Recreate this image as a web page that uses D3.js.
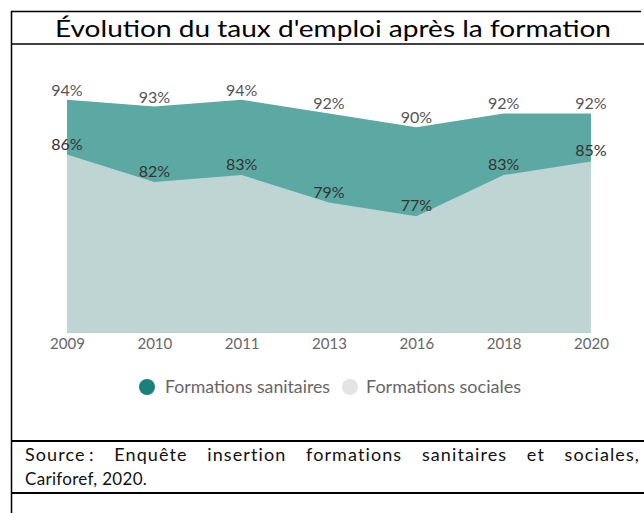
<!DOCTYPE html>
<html><head><meta charset="utf-8">
<script src="https://cdn.jsdelivr.net/npm/d3@7"></script>
<style>body{margin:0;background:#fff}svg{display:block}</style>
</head><body>
<script>
const years = ["2009","2010","2011","2013","2016","2018","2020"];
const sanitaires = [94,93,94,92,90,92,92];
const sociales = [86,82,83,79,77,83,85];
const seriesNames = ["Formations sanitaires","Formations sociales"];
const yDomain = [60,100];

const W=644,H=513;
const svg=d3.select("body").append("svg").attr("width",W).attr("height",H);
const font="Lato, 'Open Sans', sans-serif";

// table frame
const g=svg.append("g").attr("stroke","#000").attr("fill","none");
g.append("line").attr("x1",11).attr("x2",641).attr("y1",11.5).attr("y2",11.5).attr("stroke-width",1.5);
g.append("line").attr("x1",11).attr("x2",644).attr("y1",44).attr("y2",44).attr("stroke-width",1.3);
g.append("line").attr("x1",11).attr("x2",644).attr("y1",441).attr("y2",441).attr("stroke-width",2);
g.append("line").attr("x1",11).attr("x2",644).attr("y1",493).attr("y2",493).attr("stroke-width",2);
g.append("line").attr("x1",11.5).attr("x2",11.5).attr("y1",11).attr("y2",513).attr("stroke-width",1.5);

// title
svg.append("text").attr("x",333).attr("y",37).attr("text-anchor","middle")
  .attr("font-family",font).attr("font-size",24).attr("fill","#000")
  .attr("textLength",556).attr("lengthAdjust","spacingAndGlyphs")
  .text("Évolution du taux d'emploi après la formation");

const x=d3.scalePoint().domain(years).range([67,591]);
const y=d3.scaleLinear().domain(yDomain).range([332.7,58.6]);

const area=d3.area().x((d,i)=>x(years[i])).y0(y(yDomain[0])).y1(d=>y(d));
svg.append("path").datum(sanitaires).attr("d",area).attr("fill","#5ca8a3");
svg.append("path").datum(sociales).attr("d",area).attr("fill","#bed5d4");

// labels
svg.append("g").selectAll("text").data(sanitaires).join("text")
  .attr("x",(d,i)=>x(years[i])).attr("y",d=>y(d)-4).attr("text-anchor","middle")
  .attr("font-family",font).attr("font-size",16).attr("fill","#555").text(d=>d+"%");
svg.append("g").selectAll("text").data(sociales).join("text")
  .attr("x",(d,i)=>x(years[i])).attr("y",d=>y(d)-5).attr("text-anchor","middle")
  .attr("font-family",font).attr("font-size",16).attr("fill","#333").text(d=>d+"%");

// axis
const ax=svg.append("g").attr("transform",`translate(0,${y(yDomain[0])})`)
  .call(d3.axisBottom(x).tickSize(0).tickPadding(6));
ax.select(".domain").remove();
ax.selectAll("text").attr("font-family",font).attr("font-size",15).attr("fill","#666");

// legend
const leg=[{name:seriesNames[0],color:"#1a8079",cx:147,tx:165,w:165},{name:seriesNames[1],color:"#e4e4e4",cx:350,tx:366,w:155}];
const lg=svg.append("g");
leg.forEach(l=>{
  lg.append("circle").attr("cx",l.cx).attr("cy",387).attr("r",8).attr("fill",l.color);
  lg.append("text").attr("x",l.tx).attr("y",393).attr("font-family",font).attr("font-size",17)
    .attr("fill","#666").attr("textLength",l.w).attr("lengthAdjust","spacingAndGlyphs").text(l.name);
});

// source (justified first line via word spacing)
const src1=svg.append("text").attr("x",25).attr("y",461).attr("font-family",font).attr("font-size",18)
  .attr("letter-spacing",1.1).attr("fill","#111")
  .text("Source\u2009: Enquête insertion formations sanitaires et sociales,");
const nat=src1.node().getComputedTextLength();
const nSp=(src1.text().match(/ /g)||[]).length;
src1.attr("word-spacing",Math.max(0,(615-nat)/nSp));
svg.append("text").attr("x",25).attr("y",485).attr("font-family",font).attr("font-size",17)
  .attr("letter-spacing",0.3).attr("fill","#111")
  .text("Cariforef, 2020.");
</script>
</body></html>
